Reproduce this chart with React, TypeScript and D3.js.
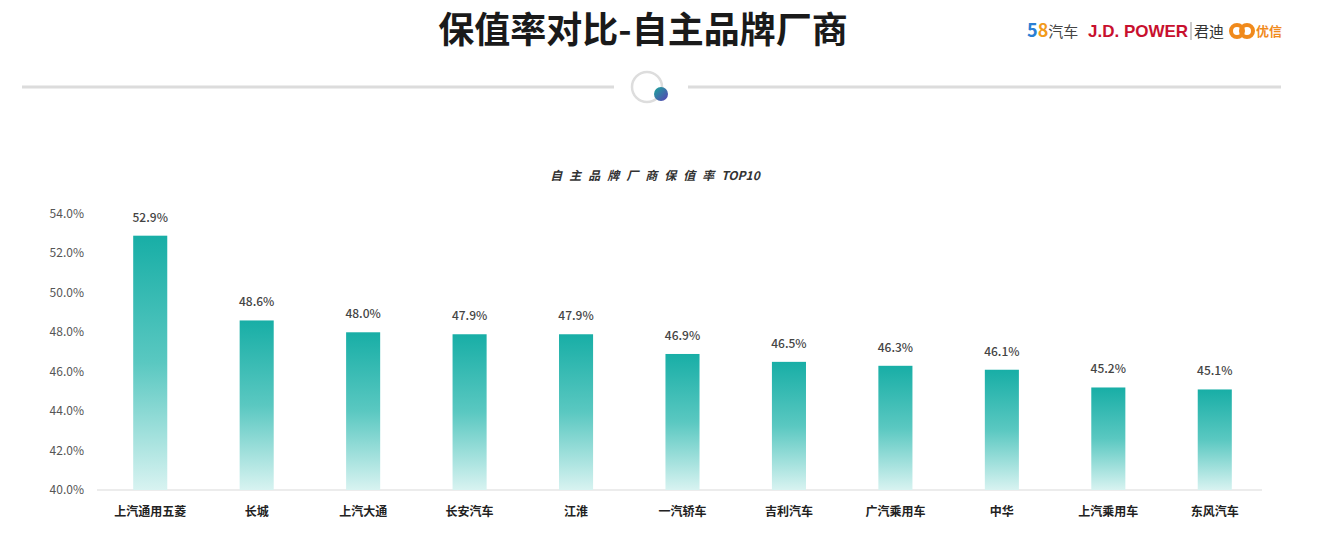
import React from "react";
import * as d3 from "d3";

const categories = ["上汽通用五菱", "长城", "上汽大通", "长安汽车", "江淮", "一汽轿车", "吉利汽车", "广汽乘用车", "中华", "上汽乘用车", "东风汽车"];
const values = [52.9, 48.6, 48.0, 47.9, 47.9, 46.9, 46.5, 46.3, 46.1, 45.2, 45.1];
const yTicks = [40, 42, 44, 46, 48, 50, 52, 54];

export default function App() {
  const W = 1338, H = 542;
  const x = d3.scaleBand<string>().domain(categories).range([97, 1268]).paddingInner(0.68).paddingOuter(0.34);
  const y = d3.scaleLinear().domain([40, 54]).range([490, 214]);
  const font = "'Noto Sans CJK SC', 'Noto Sans', sans-serif";
  return (
    <svg width={W} height={H} style={{ position: "absolute", left: 0, top: 0, background: "#fff" }} fontFamily={font}>
      <defs>
        <linearGradient id="barG" x1="0" y1="0" x2="0" y2="1">
          <stop offset="0" stopColor="#18aea6" />
          <stop offset="0.5" stopColor="#5ac8c1" />
          <stop offset="1" stopColor="#d8f3f1" />
        </linearGradient>
        <linearGradient id="dotG" x1="0" y1="0" x2="1" y2="1">
          <stop offset="0" stopColor="#1aa89a" />
          <stop offset="1" stopColor="#5a3fb5" />
        </linearGradient>
      </defs>
      <rect width={W} height={H} fill="#fff" />
      <text x={643} y={43} textAnchor="middle" fontSize={36} fontWeight={700} fill="#1a1a1a">保值率对比-自主品牌厂商</text>
      {/* logos */}
      <text x={1027} y={37} fontSize={18} fontWeight={700}>
        <tspan fill="#2a7fd4">5</tspan><tspan fill="#f29a1a">8</tspan>
        <tspan fill="#444" fontWeight={400} fontSize={15}>汽车</tspan>
      </text>
      <text x={1088} y={37} fontSize={17} fontWeight={700} fill="#c8102e" fontFamily="'Liberation Sans', Arial, sans-serif">J.D. POWER</text>
      <line x1={1191} y1={22} x2={1191} y2={40} stroke="#999" strokeWidth={1} />
      <text x={1194} y={37} fontSize={15} fill="#333">君迪</text>
      <circle cx={1237} cy={31} r={6} fill="none" stroke="#f08a1c" strokeWidth={4} />
      <circle cx={1247} cy={31} r={6} fill="none" stroke="#f08a1c" strokeWidth={4} />
      <text x={1256} y={36} fontSize={13} fill="#f08a1c" fontWeight={700}>优信</text>
      {/* divider */}
      <line x1={22} y1={87} x2={614} y2={87} stroke="#dcdcdc" strokeWidth={3} />
      <line x1={688} y1={87} x2={1281} y2={87} stroke="#dcdcdc" strokeWidth={3} />
      <circle cx={647} cy={87} r={15} fill="none" stroke="#dddddd" strokeWidth={2.5} />
      <circle cx={661} cy={94} r={7} fill="url(#dotG)" />
      {/* chart title */}
      <text x={655} y={180} textAnchor="middle" fontSize={12} fontWeight={700} fontStyle="italic" fill="#333">
        <tspan letterSpacing={7}>自主品牌厂商保值率</tspan>
        <tspan>TOP10</tspan>
      </text>
      {/* y ticks */}
      {yTicks.map((t) => (
        <text key={t} x={84} y={y(t) + 4} textAnchor="end" fontSize={12} fill="#555">{t.toFixed(1)}%</text>
      ))}
      <line x1={97} y1={490} x2={1262} y2={490} stroke="#d9d9d9" strokeWidth={1} />
      {categories.map((c, i) => {
        const bx = x(c)!;
        const bw = x.bandwidth();
        return (
          <g key={c}>
            <rect x={bx} y={y(values[i])} width={bw} height={490 - y(values[i])} fill="url(#barG)" />
            <text x={bx + bw / 2} y={y(values[i]) - 14} textAnchor="middle" fontSize={12} fontWeight={500} fill="#444">{values[i].toFixed(1)}%</text>
            <text x={bx + bw / 2} y={516} textAnchor="middle" fontSize={12} fontWeight={700} fill="#222">{c}</text>
          </g>
        );
      })}
    </svg>
  );
}
